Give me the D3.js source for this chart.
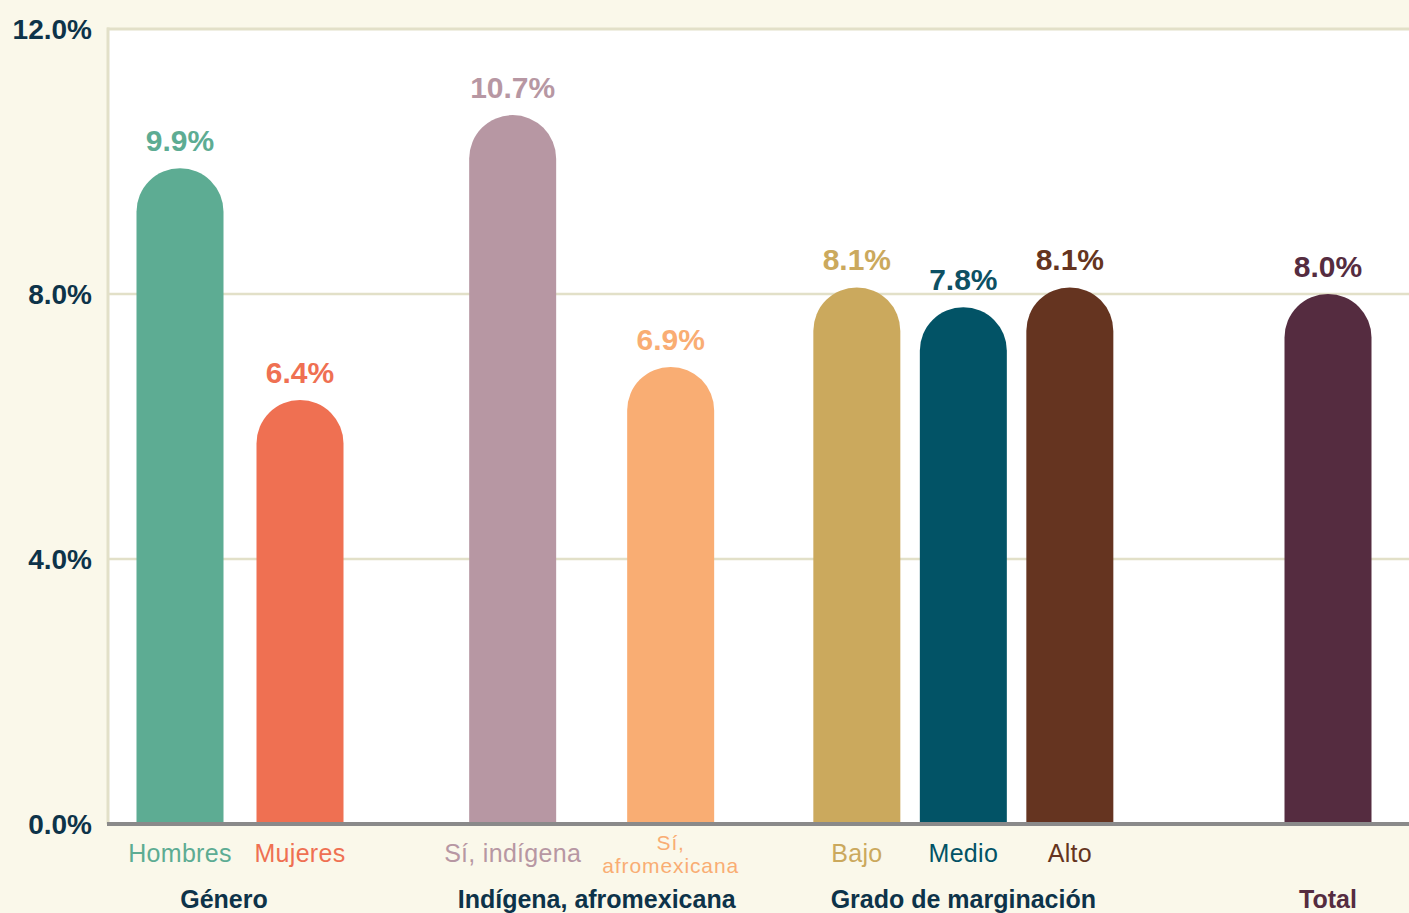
<!DOCTYPE html>
<html>
<head>
<meta charset="utf-8">
<script src="https://cdn.jsdelivr.net/npm/d3@7"></script>
<style>
  html, body { margin: 0; padding: 0; background: #faf8ea; }
  svg { display: block; }
  text { font-family: "Liberation Sans", Arial, sans-serif; }
</style>
</head>
<body>
<svg id="chart" width="1409" height="913"></svg>
<script>
// ---- Data ----
const groups = ["Género", "Indígena, afromexicana", "Grado de marginación", "Total"];
const categories = ["Hombres", "Mujeres", "Sí, indígena", "Sí, afromexicana", "Bajo", "Medio", "Alto", "Total"];
const categoryGroup = ["Género", "Género", "Indígena, afromexicana", "Indígena, afromexicana",
  "Grado de marginación", "Grado de marginación", "Grado de marginación", "Total"];
const categoryLabels = [["Hombres"], ["Mujeres"], ["Sí, indígena"], ["Sí,", "afromexicana"], ["Bajo"], ["Medio"], ["Alto"], []];
const values = [9.9, 6.4, 10.7, 6.9, 8.1, 7.8, 8.1, 8.0];
const yTicks = [0, 4, 8, 12];

// ---- Styles / layout ----
const barColors = ["#5dac93", "#ef7052", "#b797a3", "#f9ad73", "#cba95d", "#025366", "#653420", "#552c40"];
const valueColors = ["#5dac93", "#ef7052", "#b797a3", "#f9ad73", "#cba95d", "#0d5063", "#653420", "#552c40"];
const groupLabelColors = ["#0d3349", "#0d3349", "#0d3349", "#552c40"];
const groupSpacing = { "Género": 120, "Indígena, afromexicana": 158, "Grado de marginación": 106.5, "Total": 120 };
const groupShift = { "Género": 0, "Indígena, afromexicana": -11, "Grado de marginación": -2, "Total": 0 };
const groupLabelShift = { "Género": -16, "Indígena, afromexicana": 5, "Grado de marginación": 0, "Total": 0 };
const barWidth = 87;

const W = 1409, H = 913;
const plot = { left: 107, right: 1409, top: 29, bottom: 824 };

const svg = d3.select("#chart");

const y = d3.scaleLinear().domain([0, 12]).range([plot.bottom, plot.top]);

// outer scale: group centres
const xGroup = d3.scalePoint().domain(groups).range([plot.left + 133, plot.right - 81]);
const groupCenter = g => xGroup(g) + groupShift[g];

// inner scales per group
const inner = {};
groups.forEach(g => {
  const members = categories.filter((c, i) => categoryGroup[i] === g);
  const step = groupSpacing[g];
  const span = members.length * step;
  const c = groupCenter(g);
  inner[g] = d3.scaleBand().domain(members).range([c - span / 2, c + span / 2])
    .paddingInner(1 - barWidth / step).paddingOuter((1 - barWidth / step) / 2);
});
const xCenter = (cat, i) => inner[categoryGroup[i]](cat) + inner[categoryGroup[i]].bandwidth() / 2;
const bw = (i) => inner[categoryGroup[i]].bandwidth();

// plot background
svg.append("rect")
  .attr("x", plot.left).attr("y", plot.top)
  .attr("width", plot.right - plot.left).attr("height", plot.bottom - plot.top)
  .attr("fill", "#ffffff");

// gridlines
svg.append("g").selectAll("line").data(yTicks.filter(t => t > 0)).join("line")
  .attr("x1", plot.left).attr("x2", plot.right)
  .attr("y1", d => y(d)).attr("y2", d => y(d))
  .attr("stroke", "#e2e0c8").attr("stroke-width", d => d === 12 ? 3 : 2.5);

// left border
svg.append("line")
  .attr("x1", plot.left + 1).attr("x2", plot.left + 1)
  .attr("y1", plot.top - 1.5).attr("y2", plot.bottom)
  .attr("stroke", "#e2e0c8").attr("stroke-width", 3);

// y tick labels
svg.append("g").selectAll("text").data(yTicks).join("text")
  .attr("x", 92).attr("y", d => y(d))
  .attr("text-anchor", "end").attr("dominant-baseline", "central")
  .attr("font-size", 28).attr("font-weight", "bold").attr("fill", "#0d3349")
  .text(d => d3.format(".1f")(d) + "%");

// bars with rounded tops
function barPath(cx, w, top, base) {
  const r = w / 2;
  const x0 = cx - r, x1 = cx + r;
  return `M${x0},${base} L${x0},${top + r} A${r},${r} 0 0 1 ${x1},${top + r} L${x1},${base} Z`;
}
svg.append("g").selectAll("path").data(categories).join("path")
  .attr("d", (d, i) => barPath(xCenter(d, i), bw(i), y(values[i]), y(0)))
  .attr("fill", (d, i) => barColors[i]);

// baseline
svg.append("line")
  .attr("x1", plot.left).attr("x2", plot.right)
  .attr("y1", y(0)).attr("y2", y(0))
  .attr("stroke", "#8a8a8a").attr("stroke-width", 4);

// value labels
svg.append("g").selectAll("text").data(categories).join("text")
  .attr("x", (d, i) => xCenter(d, i))
  .attr("y", (d, i) => y(values[i]) - 17)
  .attr("text-anchor", "middle")
  .attr("font-size", 30).attr("font-weight", "bold")
  .attr("fill", (d, i) => valueColors[i])
  .text((d, i) => d3.format(".1f")(values[i]) + "%");

// category labels
const catG = svg.append("g").selectAll("text").data(categories).join("text")
  .attr("x", (d, i) => xCenter(d, i))
  .attr("text-anchor", "middle")
  .attr("fill", (d, i) => barColors[i])
  .attr("y", (d, i) => categoryLabels[i].length > 1 ? 850 : 862);
catG.each(function (d, i) {
  const t = d3.select(this);
  const lines = categoryLabels[i];
  t.selectAll("tspan").data(lines).join("tspan")
    .attr("x", xCenter(d, i))
    .attr("dy", (l, j) => j === 0 ? 0 : 23)
    .attr("font-size", lines.length > 1 ? 21 : 25)
    .attr("letter-spacing", lines.length > 1 ? 0.9 : 0.3)
    .text(l => l);
});

// group labels
svg.append("g").selectAll("text").data(groups).join("text")
  .attr("x", g => groupCenter(g) + groupLabelShift[g])
  .attr("y", 908)
  .attr("text-anchor", "middle")
  .attr("font-size", 25).attr("font-weight", "bold")
  .attr("fill", (g, i) => groupLabelColors[i])
  .text(g => g);
</script>
</body>
</html>
